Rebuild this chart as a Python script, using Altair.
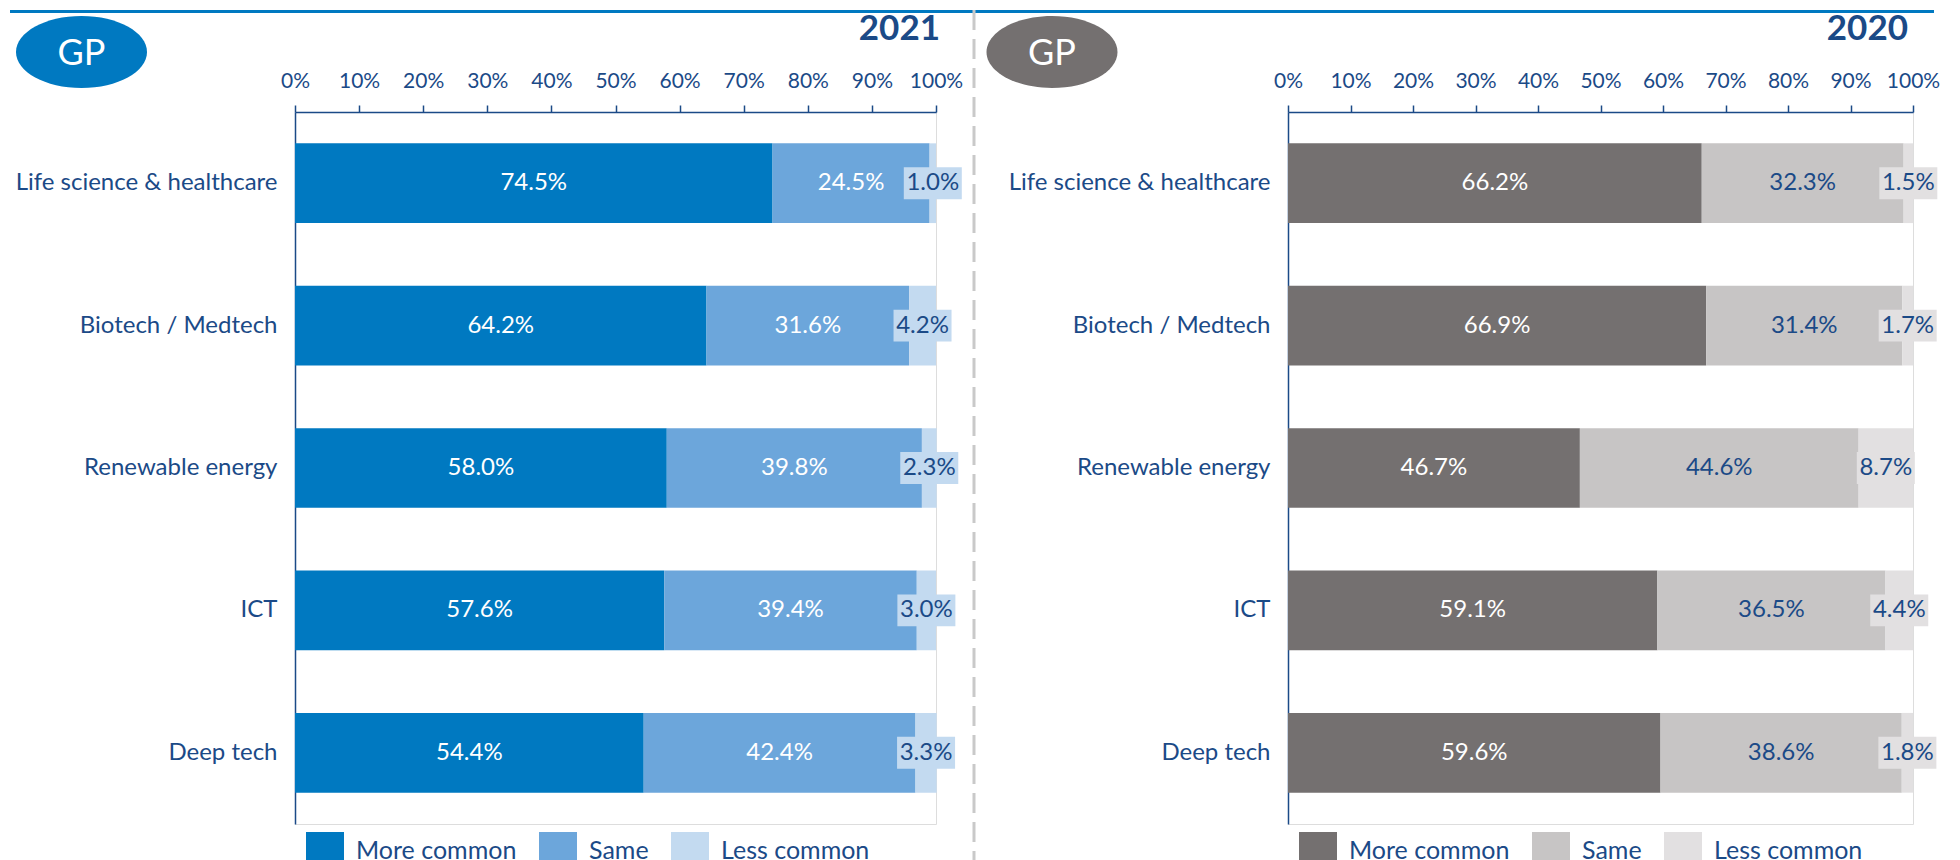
import altair as alt
import pandas as pd

categories = ["Life science & healthcare", "Biotech / Medtech", "Renewable energy", "ICT", "Deep tech"]
responses = ["More common", "Same", "Less common"]

more_2021 = [74.5, 64.2, 58.0, 57.6, 54.4]
same_2021 = [24.5, 31.6, 39.8, 39.4, 42.4]
less_2021 = [1.0, 4.2, 2.3, 3.0, 3.3]

more_2020 = [66.2, 66.9, 46.7, 59.1, 59.6]
same_2020 = [32.3, 31.4, 44.6, 36.5, 38.6]
less_2020 = [1.5, 1.7, 8.7, 4.4, 1.8]

ticks = [0, 10, 20, 30, 40, 50, 60, 70, 80, 90, 100]

NAVY = "#1B4A87"
BLUES = ["#0079C1", "#6CA6DB", "#C3DAF0"]
GREYS = ["#747070", "#C7C5C5", "#E2E0E1"]
FONT = "Lato"

W_L, W_R, H = 641, 625, 712

ELLIPSE = ("M -1 0 C -1 -0.304 -0.552 -0.55 0 -0.55 C 0.552 -0.55 1 -0.304 1 0 "
           "C 1 0.304 0.552 0.55 0 0.55 C -0.552 0.55 -1 0.304 -1 0 Z")
BOX = "M -1 -0.55 L 1 -0.55 L 1 0.55 L -1 0.55 Z"


def build(more, same, less, dark_resp):
    rows = []
    for i, c in enumerate(categories):
        start = 0.0
        for r, v in zip(responses, [more[i], same[i], less[i]]):
            rows.append({
                "category": c, "response": r, "value": v,
                "x0": start, "x1": start + v, "mid": start + v / 2,
                "label": f"{v:.1f}%",
                "dark": r in dark_resp,
                "less": r == "Less common",
            })
            start += v
    return pd.DataFrame(rows)


def panel(df, colors, width, year, badge_x, badge_y, year_x, legend_x, extra=None):
    base = alt.Chart(df)
    xscale = alt.Scale(domain=[0, 100], nice=False)
    yenc = alt.Y("category:N", sort=categories, title=None,
                 scale=alt.Scale(paddingInner=0.44, paddingOuter=0.22),
                 axis=alt.Axis(labelFontSize=24, labelColor=NAVY, labelFont=FONT,
                               labelPadding=18, ticks=False, domainColor=NAVY,
                               domainWidth=1.5, labelLimit=400, grid=False))
    bars = base.mark_bar(strokeWidth=0).encode(
        x=alt.X("x0:Q", scale=xscale, title=None,
                axis=alt.Axis(orient="top", values=ticks, labelExpr="datum.value + '%'",
                              labelFontSize=21, labelColor=NAVY, labelFont=FONT,
                              labelOverlap=False, labelFlush=False,
                              tickColor=NAVY, tickSize=7, tickWidth=1.5,
                              domainColor=NAVY, domainWidth=1.5, labelPadding=14,
                              grid=False)),
        x2="x1:Q",
        y=yenc,
        color=alt.Color("response:N", sort=responses,
                        scale=alt.Scale(domain=responses, range=colors),
                        legend=alt.Legend(title=None, orient="none", direction="horizontal",
                                          legendX=legend_x, legendY=720, symbolType="square",
                                          symbolSize=1444, symbolStrokeWidth=0,
                                          labelFontSize=25, labelColor=NAVY, labelFont=FONT,
                                          labelLimit=400, labelOffset=12, columnPadding=22,
                                          padding=0)),
    )
    boxes = base.transform_filter("datum.less").mark_point(
        shape=BOX, filled=True, size=3364, opacity=1, strokeWidth=0, color=colors[2]
    ).encode(x=alt.X("mid:Q", scale=xscale), y=alt.Y("category:N", sort=categories))
    txt_light = base.transform_filter("!datum.dark").mark_text(
        fontSize=24, font=FONT, color="white", baseline="middle"
    ).encode(x=alt.X("mid:Q", scale=xscale), y=alt.Y("category:N", sort=categories),
             text="label:N")
    txt_dark = base.transform_filter("datum.dark").mark_text(
        fontSize=24, font=FONT, color=NAVY, baseline="middle"
    ).encode(x=alt.X("mid:Q", scale=xscale), y=alt.Y("category:N", sort=categories),
             text="label:N")

    one = alt.Data(values=[{"t": year}])
    badge = alt.Chart(one).mark_point(
        shape=ELLIPSE, filled=True, size=17161, opacity=1, strokeWidth=0, color=colors[0]
    ).encode(x=alt.value(badge_x), y=alt.value(badge_y))
    badge_txt = alt.Chart(one).mark_text(
        text="GP", fontSize=36, font=FONT, color="white", align="center",
        baseline="alphabetic"
    ).encode(x=alt.value(badge_x), y=alt.value(badge_y + 13))
    year_txt = alt.Chart(one).mark_text(
        fontSize=35, font=FONT, fontWeight="bold", color=NAVY, align="right",
        baseline="alphabetic"
    ).encode(x=alt.value(year_x), y=alt.value(-72), text="t:N")

    layers = list(extra or []) + [badge, badge_txt, year_txt, bars, boxes, txt_light, txt_dark]
    return alt.layer(*layers).properties(width=width, height=H)


one0 = alt.Data(values=[{"a": 1}])
top_line = alt.Chart(one0).mark_rule(color="#0079C1", strokeWidth=3).encode(
    x=alt.value(-285), x2=alt.value(1639), y=alt.value(-100.5))
separator = alt.Chart(one0).mark_rule(color="#C9C9C9", strokeWidth=3, strokeDash=[20, 9]).encode(
    x=alt.value(679), y=alt.value(-102), y2=alt.value(760))

df21 = build(more_2021, same_2021, less_2021, dark_resp=["Less common"])
df20 = build(more_2020, same_2020, less_2020, dark_resp=["Same", "Less common"])

left = panel(df21, BLUES, W_L, "2021", -213.5, -60, 645, 11,
             extra=[top_line, separator])
right = panel(df20, GREYS, W_R, "2020", -236, -60, 620, 11)

chart = alt.hconcat(left, right, spacing=352, bounds="flush").resolve_scale(
    color="independent", x="independent", y="independent"
).properties(padding=0).configure_view(stroke=None).configure(font=FONT)

chart.save("out.html", embed_options={"renderer": "svg", "actions": False})
